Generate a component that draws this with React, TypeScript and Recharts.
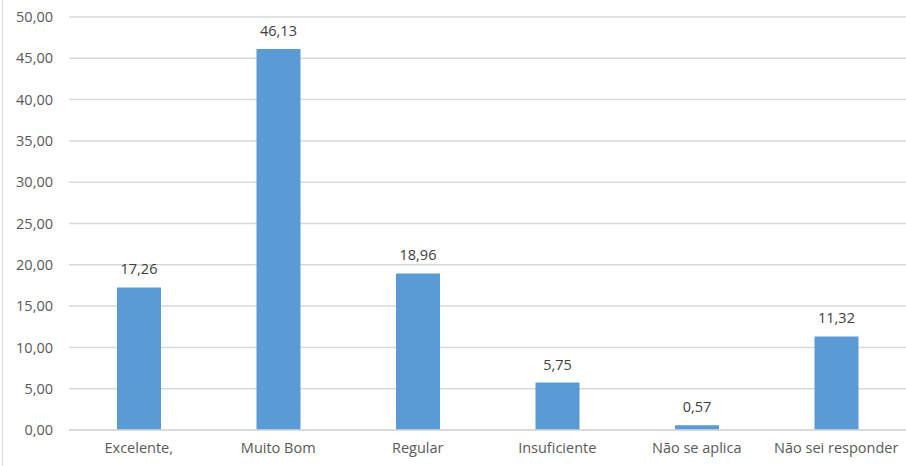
import { Bar, BarChart, CartesianGrid, LabelList, XAxis, YAxis } from 'recharts';

const categories = [
  'Excelente,',
  'Muito Bom',
  'Regular',
  'Insuficiente',
  'Não se aplica',
  'Não sei responder',
];
const values = [17.26, 46.13, 18.96, 5.75, 0.57, 11.32];
const yTicks = [0, 5, 10, 15, 20, 25, 30, 35, 40, 45, 50];

const data = categories.map((name, i) => ({ name, value: values[i] }));

const fmt = (v: number) => v.toFixed(2).replace('.', ',');

export default function App() {
  return (
    <div
      style={{
        position: 'absolute',
        left: 0,
        top: 0,
        width: 906,
        height: 466,
        background: '#fff',
        fontFamily: '"Open Sans", sans-serif',
      }}
    >
      <div
        style={{
          position: 'absolute',
          left: 2,
          top: 0,
          width: 1,
          height: 466,
          background: '#d9d9d9',
        }}
      />
      <BarChart
        width={906}
        height={466}
        data={data}
        margin={{ top: 17, right: 0, left: 0, bottom: 0 }}
        barCategoryGap={0}
      >
        <CartesianGrid vertical={false} stroke="#d9d9d9" strokeWidth={1.5} />
        <XAxis
          dataKey="name"
          axisLine={{ stroke: '#d9d9d9', strokeWidth: 1.5 }}
          tickLine={false}
          tickSize={0}
          tickMargin={13}
          height={36}
          interval={0}
          tick={{ fontSize: 14.5, fill: '#595959' }}
        />
        <YAxis
          domain={[0, 50]}
          ticks={yTicks}
          axisLine={false}
          tickLine={false}
          tickSize={0}
          tickMargin={16}
          width={69}
          tickFormatter={fmt}
          tick={{ fontSize: 14.5, fill: '#595959' }}
        />
        <Bar dataKey="value" fill="#5b9bd5" barSize={44} isAnimationActive={false}>
          <LabelList
            dataKey="value"
            position="top"
            offset={13}
            formatter={(v: number) => fmt(v)}
            style={{ fontSize: 14.5, fill: '#404040' }}
          />
        </Bar>
      </BarChart>
    </div>
  );
}
